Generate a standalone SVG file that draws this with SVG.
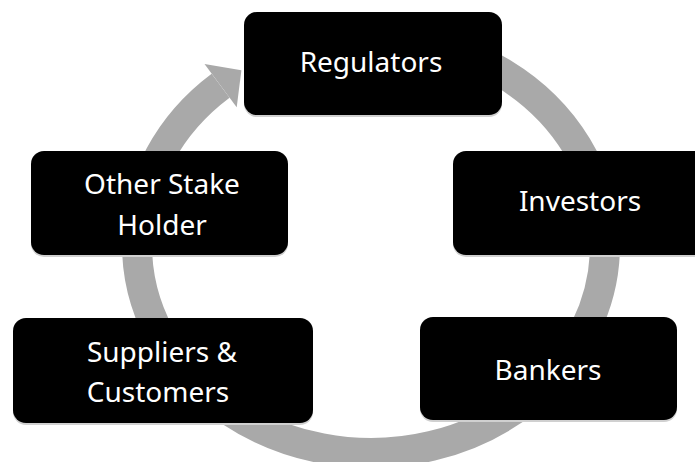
<svg xmlns="http://www.w3.org/2000/svg" width="695" height="462" viewBox="0 0 695 462">
  <style>
    .ring { fill: none; stroke: #a9a9a9; stroke-width: 30; stroke-linecap: butt; }
    .head { fill: #a9a9a9; }
    .box { fill: #000000; }
    .shade { fill: #d0d0d0; }
    .label { font-family: "Noto Sans", "Open Sans", "DejaVu Sans", sans-serif; font-size: 28px; fill: #ffffff; text-anchor: middle; }
  </style>

  <!-- circular flow: elliptical band running clockwise, ending in an arrowhead at the top-left -->
  <g id="connectors">
    <path class="ring" d="M 411.6 40.2 A 234 208 0 1 1 220.6 85.7"/>
    <polygon class="head" points="204.5,64.1 241.4,70.2 236.7,107.3"/>
  </g>

  <g id="regulators">
    <rect class="shade" x="244" y="13" width="258" height="104" rx="13"/>
    <rect class="box" x="244" y="12" width="258" height="103" rx="13"/>
    <text class="label" x="371" y="72">Regulators</text>
  </g>

  <g id="investors">
    <rect class="shade" x="453" y="152" width="258" height="105" rx="13"/>
    <rect class="box" x="453" y="151" width="258" height="104" rx="13"/>
    <text class="label" x="580" y="211">Investors</text>
  </g>

  <g id="bankers">
    <rect class="shade" x="420" y="318" width="257" height="104" rx="13"/>
    <rect class="box" x="420" y="317" width="257" height="103" rx="13"/>
    <text class="label" x="548" y="380">Bankers</text>
  </g>

  <g id="suppliers-customers">
    <rect class="shade" x="13" y="319" width="300" height="106" rx="13"/>
    <rect class="box" x="13" y="318" width="300" height="105" rx="13"/>
    <text class="label" x="162" y="362">Suppliers &amp;</text>
    <text class="label" x="158" y="402">Customers</text>
  </g>

  <g id="other-stake-holder">
    <rect class="shade" x="31" y="152" width="257" height="105" rx="13"/>
    <rect class="box" x="31" y="151" width="257" height="104" rx="13"/>
    <text class="label" x="162" y="194">Other Stake</text>
    <text class="label" x="162" y="235">Holder</text>
  </g>
</svg>
